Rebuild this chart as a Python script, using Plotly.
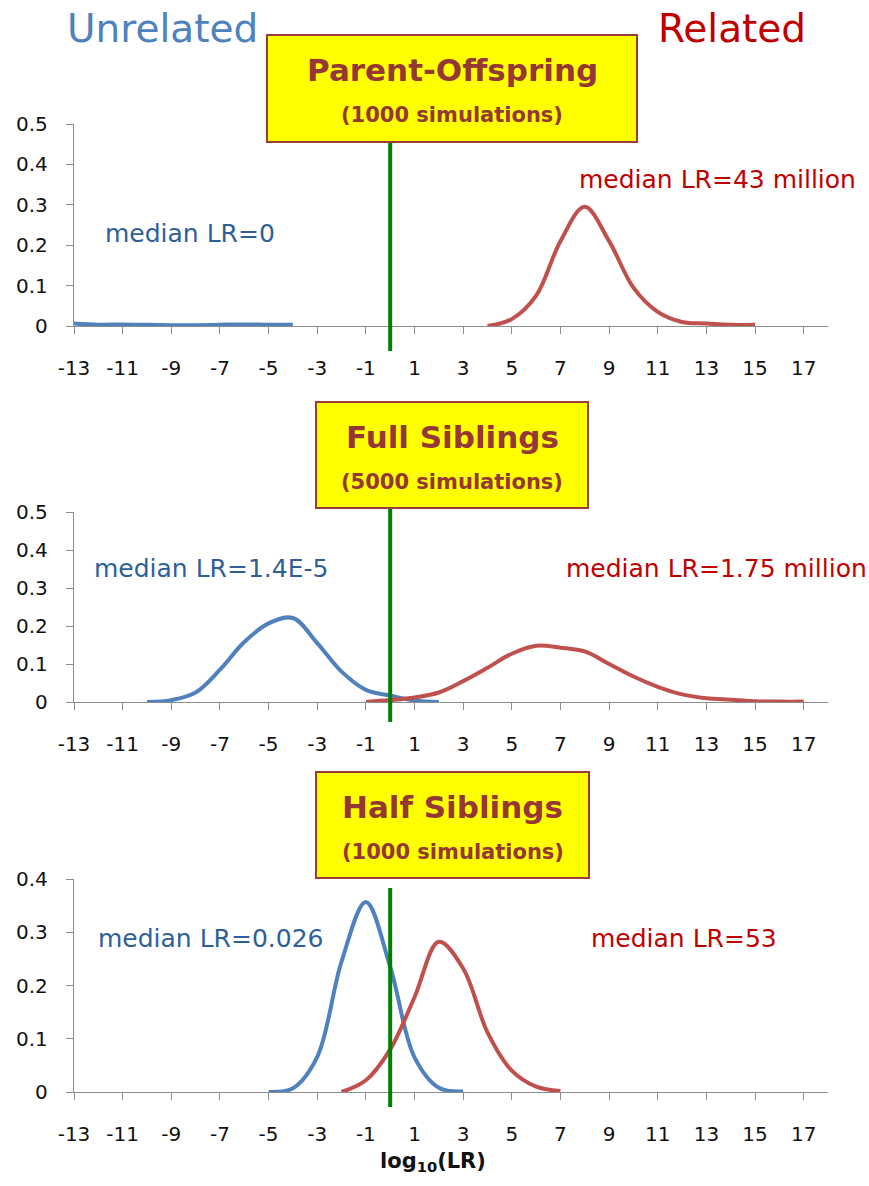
import plotly.graph_objects as go

W, H = 869, 1186

# ---- data: density of log10(LR) per relationship ----
# Parent-Offspring
po_unrel_x = [-13, -12, -11, -10, -9, -8, -7, -6, -5, -4]
po_unrel_y = [0.006, 0.003, 0.004, 0.003, 0.002, 0.002, 0.003, 0.004, 0.003, 0.003]
po_rel_x = [4, 5, 6, 7, 8, 9, 10, 11, 12, 13, 14, 15]
po_rel_y = [0.0, 0.017, 0.075, 0.21, 0.295, 0.21, 0.095, 0.035, 0.01, 0.006, 0.003, 0.003]

# Full Siblings
fs_unrel_x = [-10, -9, -8, -7, -6, -5, -4, -3, -2, -1, 0, 1, 2]
fs_unrel_y = [0.0, 0.005, 0.025, 0.085, 0.158, 0.207, 0.221, 0.155, 0.08, 0.032, 0.017, 0.004, 0.0]
fs_rel_x = [-1, 0, 1, 2, 3, 4, 5, 6, 7, 8, 9, 10, 11, 12, 13, 14, 15, 16, 17]
fs_rel_y = [0.0, 0.005, 0.012, 0.025, 0.055, 0.09, 0.127, 0.148, 0.143, 0.133, 0.1,
            0.067, 0.04, 0.02, 0.01, 0.006, 0.002, 0.001, 0.001]

# Half Siblings
hs_unrel_x = [-5, -4, -3, -2, -1, 0, 1, 2, 3]
hs_unrel_y = [0.0, 0.007, 0.066, 0.245, 0.357, 0.235, 0.065, 0.008, 0.001]
hs_rel_x = [-2, -1, 0, 1, 2, 3, 4, 5, 6, 7]
hs_rel_y = [0.0, 0.022, 0.08, 0.178, 0.282, 0.232, 0.112, 0.04, 0.01, 0.002]

panel_titles = ["Parent-Offspring", "Full Siblings", "Half Siblings"]
panel_subtitles = ["(1000 simulations)", "(5000 simulations)", "(1000 simulations)"]
unrel_labels = ["median LR=0", "median LR=1.4E-5", "median LR=0.026"]
rel_labels = ["median LR=43 million", "median LR=1.75 million", "median LR=53"]
y_max = [0.5, 0.5, 0.4]
x_range = [-13, 18]
x_tick_vals = list(range(-13, 18, 2))
x_tick_text = [str(v) for v in x_tick_vals]  # plain hyphen for negatives
threshold = 0  # log10(LR) = 0

BLUE = "#4F81BD"
RED = "#C0504D"
BLUE_TXT = "#2F5F98"
RED_TXT = "#C00000"
BOX_TXT = "#953735"
AXIS = "#8C8C8C"
FONT = "DejaVu Sans"


def fx(px):
    return px / W


def fy(py):
    return 1 - py / H


# pixel layout of each panel: plot top/bottom, title box edges,
# threshold line extent, label centres
panels = [
    dict(top=124, bot=326, bt=35, bb=142, bl=267, br=637, lt=142, lb=351,
         ul=(190, 233), rl=(717, 179)),
    dict(top=512, bot=702, bt=402, bb=508, bl=316, br=588, lt=508, lb=722,
         ul=(211, 568), rl=(716, 568)),
    dict(top=879, bot=1092, bt=772, bb=878, bl=316, br=589, lt=888, lb=1107,
         ul=(210, 938), rl=(684, 938)),
]
PLOT_L, PLOT_R = 74, 828

series = [
    (po_unrel_x, po_unrel_y, po_rel_x, po_rel_y),
    (fs_unrel_x, fs_unrel_y, fs_rel_x, fs_rel_y),
    (hs_unrel_x, hs_unrel_y, hs_rel_x, hs_rel_y),
]

fig = go.Figure()
shapes = []
annotations = []

for i, (p, (ux, uy, rx, ry)) in enumerate(zip(panels, series)):
    n = "" if i == 0 else str(i + 1)
    xa, ya = "x" + n, "y" + n
    fig.add_trace(go.Scatter(x=ux, y=uy, mode="lines", xaxis=xa, yaxis=ya,
                             line=dict(color=BLUE, width=4, shape="spline"),
                             showlegend=False, hoverinfo="skip"))
    fig.add_trace(go.Scatter(x=rx, y=ry, mode="lines", xaxis=xa, yaxis=ya,
                             line=dict(color=RED, width=4, shape="spline"),
                             showlegend=False, hoverinfo="skip"))

    axis_common = dict(showgrid=False, zeroline=False, showline=True,
                       linecolor=AXIS, linewidth=1.3, ticks="outside",
                       ticklen=7, tickcolor=AXIS, tickwidth=1.3, automargin=False,
                       tickfont=dict(family=FONT, size=20, color="#111111"))
    fig.update_layout(**{
        "xaxis" + n: dict(domain=[fx(PLOT_L), fx(PLOT_R)], range=x_range,
                          anchor=ya, tickmode="array", tickvals=x_tick_vals,
                          ticktext=x_tick_text, ticklabelstandoff=17, **axis_common),
        "yaxis" + n: dict(domain=[fy(p["bot"]), fy(p["top"])], range=[0, y_max[i]],
                          anchor=xa, dtick=0.1, ticklabelstandoff=14,
                          **axis_common),
    })

    # threshold line at log10(LR) = 0
    span = p["bot"] - p["top"]
    shapes.append(dict(type="line", xref=xa, yref=ya + " domain",
                       x0=threshold, x1=threshold,
                       y0=(p["bot"] - p["lb"]) / span, y1=(p["bot"] - p["lt"]) / span,
                       line=dict(color="#008000", width=4)))
    # title box
    shapes.append(dict(type="rect", xref="paper", yref="paper",
                       x0=fx(p["bl"]), x1=fx(p["br"]), y0=fy(p["bb"]), y1=fy(p["bt"]),
                       fillcolor="#FFFF00", line=dict(color="#9B3C3A", width=2)))
    cx = (p["bl"] + p["br"]) / 2
    annotations.append(dict(xref="paper", yref="paper", x=fx(cx), y=fy(p["bt"] + 35),
                            text="<b>" + panel_titles[i] + "</b>", showarrow=False,
                            xanchor="center", yanchor="middle",
                            font=dict(family=FONT, size=31, color=BOX_TXT)))
    annotations.append(dict(xref="paper", yref="paper", x=fx(cx), y=fy(p["bt"] + 80),
                            text="<b>" + panel_subtitles[i] + "</b>", showarrow=False,
                            xanchor="center", yanchor="middle",
                            font=dict(family=FONT, size=21, color=BOX_TXT)))
    # median annotations
    annotations.append(dict(xref="paper", yref="paper", x=fx(p["ul"][0]), y=fy(p["ul"][1]),
                            text=unrel_labels[i], showarrow=False,
                            xanchor="center", yanchor="middle",
                            font=dict(family=FONT, size=25, color=BLUE_TXT)))
    annotations.append(dict(xref="paper", yref="paper", x=fx(p["rl"][0]), y=fy(p["rl"][1]),
                            text=rel_labels[i], showarrow=False,
                            xanchor="center", yanchor="middle",
                            font=dict(family=FONT, size=25, color=RED_TXT)))

# side headings
annotations.append(dict(xref="paper", yref="paper", x=fx(162), y=fy(28), text="Unrelated",
                        showarrow=False, xanchor="center", yanchor="middle",
                        font=dict(family=FONT, size=39, color="#4F81BD")))
annotations.append(dict(xref="paper", yref="paper", x=fx(732), y=fy(28), text="Related",
                        showarrow=False, xanchor="center", yanchor="middle",
                        font=dict(family=FONT, size=39, color="#C00000")))
# x axis title
annotations.append(dict(xref="paper", yref="paper", x=fx(433), y=fy(1162),
                        text="<b>log<sub>10</sub>(LR)</b>", showarrow=False,
                        xanchor="center", yanchor="middle",
                        font=dict(family=FONT, size=21, color="#111111")))

fig.update_layout(width=W, height=H, margin=dict(l=0, r=0, t=0, b=0, pad=0),
                  paper_bgcolor="white", plot_bgcolor="white",
                  shapes=shapes, annotations=annotations)

fig.write_html("out.html")
